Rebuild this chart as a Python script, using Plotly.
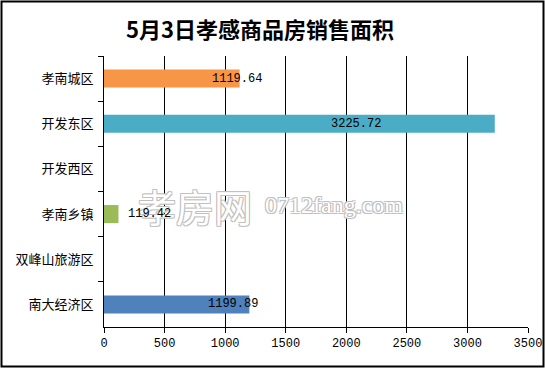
import plotly.graph_objects as go

categories = ["孝南城区", "开发东区", "开发西区", "孝南乡镇", "双峰山旅游区", "南大经济区"]
values = [1119.64, 3225.72, None, 119.42, None, 1199.89]
colors = ["#F79646", "#4BACC6", "#4BACC6", "#9BBB59", "#4F81BD", "#4F81BD"]
x_ticks = [0, 500, 1000, 1500, 2000, 2500, 3000, 3500]
label_shift_px = [-3, -139, 0, 31, 0, -16]

W, H = 545, 368
ml, mr, mt, mb = 104, 17, 56, 41
pw, ph = W - ml - mr, H - mt - mb

fig = go.Figure()
fig.add_trace(go.Bar(
    y=categories, x=values, orientation="h",
    marker=dict(color=colors, line=dict(width=0)),
    width=0.4, hoverinfo="x+y",
))

annotations = []
# watermark (drawn first, under the value labels)
wm_shadow = "1px 1px 0 #c0c0c0, -1px -1px 0 #c0c0c0, 1px -1px 0 #c0c0c0, -1px 1px 0 #c0c0c0"
annotations.append(dict(
    x=(195 - ml) / pw, y=(mt + ph - 205) / ph, xref="paper", yref="paper",
    text="孝房网", showarrow=False, xanchor="center", yanchor="middle",
    font=dict(family="Noto Sans CJK SC", size=38, color="#ffffff", shadow=wm_shadow),
))
annotations.append(dict(
    x=(334 - ml) / pw, y=(mt + ph - 205) / ph, xref="paper", yref="paper",
    text="0712fang.com", showarrow=False, xanchor="center", yanchor="middle",
    font=dict(family="Liberation Serif, DejaVu Serif", size=24, color="#ffffff", shadow=wm_shadow),
))
for c, v, s in zip(categories, values, label_shift_px):
    if v is None:
        continue
    annotations.append(dict(
        x=v, y=c, xref="x", yref="y", text=f"{v:.2f}", showarrow=False,
        xanchor="center", yanchor="middle", xshift=s,
        font=dict(family="Liberation Mono, DejaVu Sans Mono", size=12, color="#000"),
    ))

fig.update_layout(
    width=W, height=H,
    margin=dict(l=ml, r=mr, t=mt, b=mb, pad=0),
    paper_bgcolor="white", plot_bgcolor="white",
    showlegend=False,
    title=dict(text="<b>5月3日孝感商品房销售面积</b>", x=260 / W, xanchor="center",
               y=1 - 30 / H, yanchor="middle",
               font=dict(family="Noto Sans CJK SC", size=22, color="#000")),
    xaxis=dict(
        range=[0, 3500], tickvals=x_ticks, ticktext=[str(t) for t in x_ticks],
        showgrid=True, gridcolor="#000", gridwidth=1,
        showline=True, linecolor="#000", linewidth=1,
        ticks="outside", ticklen=5, tickcolor="#000",
        tickfont=dict(family="Liberation Mono, DejaVu Sans Mono", size=12, color="#000"),
        zeroline=False, fixedrange=True, automargin=False,
    ),
    yaxis=dict(
        type="category", autorange="reversed",
        showline=True, linecolor="#000", linewidth=1,
        ticks="outside", ticklen=5, tickcolor="#000", tickson="boundaries",
        ticklabelstandoff=7,
        tickfont=dict(family="Noto Sans CJK SC", size=13, color="#000"),
        showgrid=False, fixedrange=True, automargin=False,
    ),
    annotations=annotations,
    shapes=[dict(
        type="rect", xref="paper", yref="paper",
        x0=(1.5 - ml) / pw, x1=(543.5 - ml) / pw,
        y0=(mt + ph - 366.5) / ph, y1=(mt + ph - 1.5) / ph,
        line=dict(color="#000", width=2), fillcolor="rgba(0,0,0,0)", layer="above",
    )],
)

fig.write_html("out.html", config={"displayModeBar": False},
               post_script="document.body.style.margin='0';document.body.style.padding='0';")
